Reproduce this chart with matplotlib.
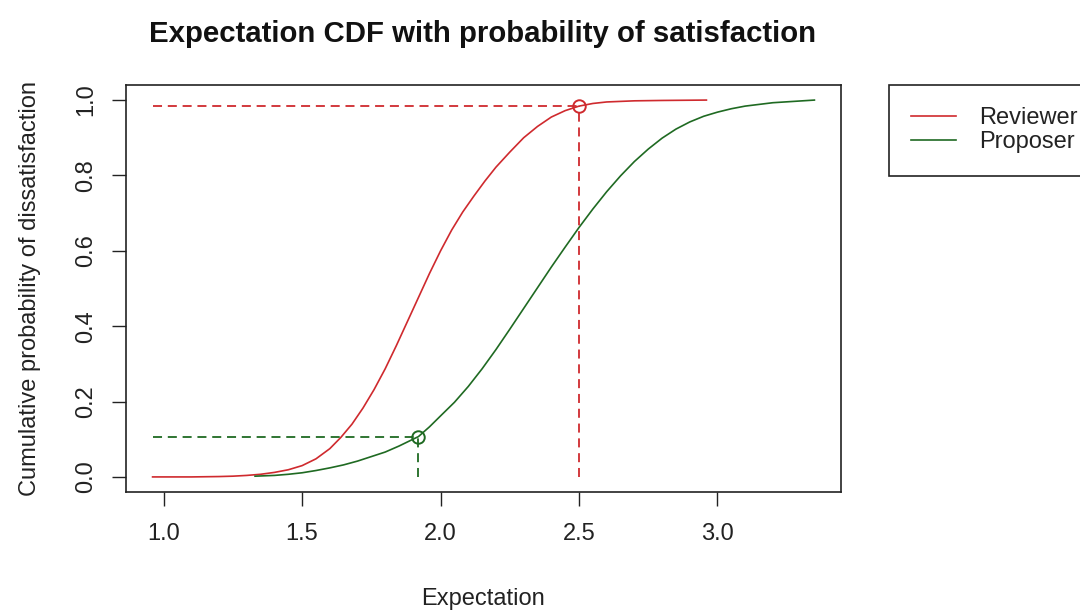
"""Expectation CDF chart with probability of satisfaction markers."""

import matplotlib

matplotlib.use("Agg")
import matplotlib.pyplot as plt

plt.rcParams["font.family"] = ["Liberation Sans", "DejaVu Sans"]

# values
reviewer_x = [0.96, 1.10, 1.20, 1.25, 1.30, 1.35, 1.40, 1.45, 1.50, 1.55, 1.60,
              1.64, 1.68, 1.72, 1.76, 1.80, 1.84, 1.88, 1.92, 1.96, 2.00, 2.04,
              2.08, 2.12, 2.16, 2.20, 2.25, 2.30, 2.35, 2.40, 2.45, 2.50, 2.55,
              2.60, 2.70, 2.80, 2.96]
reviewer_y = [0.000, 0.000, 0.001, 0.002, 0.004, 0.007, 0.012, 0.019, 0.030,
              0.048, 0.075, 0.105, 0.140, 0.183, 0.232, 0.287, 0.348, 0.412,
              0.476, 0.540, 0.600, 0.655, 0.703, 0.745, 0.785, 0.822, 0.862,
              0.900, 0.930, 0.955, 0.972, 0.984, 0.991, 0.995, 0.998, 0.999,
              1.000]

proposer_x = [1.33, 1.40, 1.45, 1.50, 1.55, 1.60, 1.65, 1.70, 1.75, 1.80, 1.85,
              1.92, 1.96, 2.00, 2.05, 2.10, 2.15, 2.20, 2.25, 2.30, 2.35, 2.40,
              2.45, 2.50, 2.55, 2.60, 2.65, 2.70, 2.75, 2.80, 2.85, 2.90, 2.95,
              3.00, 3.05, 3.10, 3.20, 3.35]
proposer_y = [0.002, 0.004, 0.007, 0.011, 0.017, 0.024, 0.032, 0.042, 0.054,
              0.066, 0.082, 0.107, 0.133, 0.162, 0.198, 0.240, 0.287, 0.338,
              0.392, 0.447, 0.502, 0.557, 0.610, 0.662, 0.711, 0.757, 0.799,
              0.837, 0.870, 0.899, 0.923, 0.942, 0.957, 0.968, 0.977, 0.984,
              0.993, 1.000]

# expectation point and its cumulative probability
reviewer_point = (2.50, 0.984)
proposer_point = (1.92, 0.107)

x_ticks = [1.0, 1.5, 2.0, 2.5, 3.0]
y_ticks = [0.0, 0.2, 0.4, 0.6, 0.8, 1.0]

RED = "#cf2a2e"
GREEN = "#1f6a22"
FS = 17

fig = plt.figure(figsize=(10.8, 6.12), dpi=100)
ax = fig.add_axes([126 / 1080, 1 - 492 / 612, 715 / 1080, 407 / 612])

ax.plot(reviewer_x, reviewer_y, color=RED, lw=1.2, label="Reviewer")
ax.plot(proposer_x, proposer_y, color=GREEN, lw=1.2, label="Proposer")

x_start = min(reviewer_x + proposer_x)
for (px, py), col in ((reviewer_point, RED), (proposer_point, GREEN)):
    ax.plot([x_start, px], [py, py], color=col, lw=1.3, dashes=(5, 3.2))
    ax.plot([px, px], [0, py], color=col, lw=1.3, dashes=(5, 3.2))
    ax.plot([px], [py], marker="o", ms=9, mfc="none", mec=col, mew=1.4)

ax.set_xlim(0.864, 3.446)
ax.set_ylim(-0.04, 1.04)
ax.set_xticks(x_ticks)
ax.set_xticklabels([f"{v:.1f}" for v in x_ticks])
ax.set_yticks(y_ticks)
ax.set_yticklabels([f"{v:.1f}" for v in y_ticks], rotation=90, va="center")
ax.tick_params(direction="out", length=10, width=1.0, labelsize=FS,
               color="#222222", labelcolor="#222222")
ax.tick_params(axis="x", pad=12)
ax.tick_params(axis="y", pad=11)
for sp in ax.spines.values():
    sp.set_linewidth(1.2)
    sp.set_color("#222222")

fig.text(483 / 1080, 1 - 34 / 612, "Expectation CDF with probability of satisfaction",
         ha="center", va="center", fontsize=21.2, fontweight="bold", color="#111111")
fig.text(483 / 1080, 1 - 599 / 612, "Expectation", ha="center", va="center",
         fontsize=FS, color="#222222")
fig.text(30 / 1080, 1 - 288 / 612, "Cumulative probability of dissatisfaction",
         ha="center", va="center", rotation=90, fontsize=FS, color="#222222")

leg = ax.legend(loc="upper left", bbox_to_anchor=(889 / 1080, 1 - 85 / 612),
                bbox_transform=fig.transFigure, borderaxespad=0, fontsize=FS,
                frameon=True, fancybox=False, framealpha=1, edgecolor="#222222",
                handlelength=1.9, handletextpad=0.95, labelspacing=0.08,
                borderpad=0.95)
leg.get_frame().set_linewidth(1.2)
for txt in leg.get_texts():
    txt.set_color("#222222")

fig.savefig("out.png", dpi=100)
plt.close(fig)
